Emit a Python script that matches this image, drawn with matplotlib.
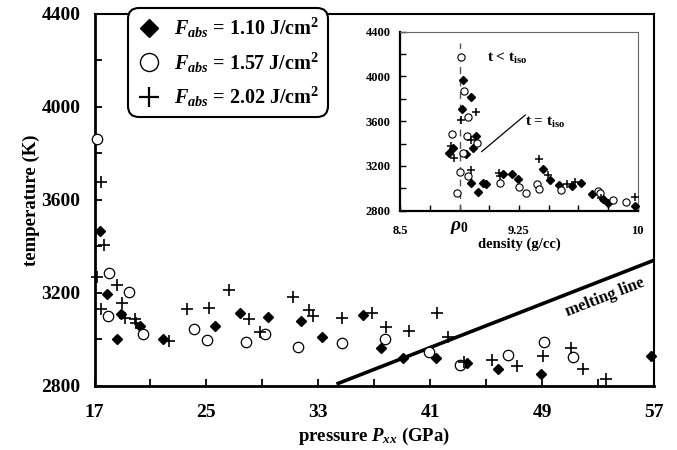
import matplotlib
matplotlib.use("Agg")
import matplotlib.pyplot as plt
from matplotlib.lines import Line2D
from matplotlib.ticker import MultipleLocator, FixedLocator

plt.rcParams['font.family'] = ['Liberation Serif', 'DejaVu Serif']
plt.rcParams['font.weight'] = 'bold'
plt.rcParams['mathtext.fontset'] = 'custom'
plt.rcParams['mathtext.rm'] = 'Liberation Serif:bold'
plt.rcParams['mathtext.it'] = 'Liberation Serif:italic:bold'
plt.rcParams['mathtext.bf'] = 'Liberation Serif:bold'

# --- main panel: temperature vs pressure ---
d_P = [17.40, 17.87, 18.63, 18.89, 20.25, 21.87, 25.61, 27.40, 29.42, 31.76,
       33.24, 36.17, 37.48, 39.07, 41.41, 43.65, 45.86, 48.89, 56.80]
d_T = [3466, 3195, 3001, 3107, 3058, 3001, 3058, 3112, 3097, 3079,
       3011, 3104, 2961, 2918, 2918, 2896, 2872, 2850, 2928]

o_P = [17.16, 17.99, 18.06, 19.49, 20.49, 24.13, 25.02, 27.83, 29.19, 31.52,
       34.71, 37.77, 40.93, 43.13, 46.58, 49.15, 51.22]
o_T = [3862, 3100, 3284, 3202, 3021, 3044, 2997, 2987, 3021, 2968,
       2983, 3001, 2946, 2889, 2932, 2987, 2922]

p_P = [17.20, 17.44, 17.46, 17.70, 18.59, 18.94, 19.18, 19.90, 20.00, 22.35,
       23.63, 25.18, 26.64, 28.07, 28.83, 31.21, 32.35, 32.64, 34.71, 36.81,
       37.84, 39.50, 41.50, 42.29, 43.41, 45.39, 47.18, 49.08, 51.04, 51.90, 53.56]
p_T = [3269, 3678, 3129, 3406, 3234, 3155, 3090, 3086, 3071, 2992,
       3129, 3133, 3212, 3086, 3030, 3183, 3126, 3100, 3090, 3114,
       3051, 3037, 3114, 3008, 2903, 2911, 2885, 2928, 2961, 2872, 2828]

melt_P = [34.3, 57.0]
melt_T = [2807, 3340]

P_major = [17, 25, 33, 41, 49, 57]
P_minor = [21, 29, 37, 45, 53]

# --- inset: temperature vs density ---
di_rho = [8.896, 8.948, 8.889, 8.980, 8.960, 8.915, 8.810, 8.836, 8.950, 8.994,
          9.025, 9.040, 9.148, 9.209, 9.243, 9.400, 9.447, 9.506, 9.587, 9.640,
          9.713, 9.783, 9.814, 9.980]
di_T = [3968, 3812, 3712, 3468, 3358, 3305, 3313, 3358, 3050, 2965,
        3048, 3036, 3125, 3125, 3082, 3172, 3078, 3030, 3022, 3050,
        2945, 2905, 2866, 2840]

oi_rho = [8.885, 8.902, 8.928, 8.830, 8.920, 8.984, 8.900, 8.880, 8.930, 8.860,
          9.130, 9.250, 9.295, 9.367, 9.377, 9.518, 9.750, 9.760, 9.845, 9.925]
oi_T = [4171, 3870, 3633, 3484, 3468, 3407, 3313, 3149, 3113, 2961,
        3045, 3015, 2958, 3042, 2997, 2982, 2975, 2962, 2892, 2878]

pi_rho = [8.980, 8.886, 8.948, 8.822, 8.838, 8.948, 9.127, 9.130, 9.377, 9.436,
          9.552, 9.604, 9.770, 9.983]
pi_T = [3685, 3608, 3430, 3378, 3270, 3160, 3140, 3110, 3260, 3119,
        3039, 3052, 2915, 2922]

rho0 = 8.875
labels = [r'$F_{abs}$ = 1.10 J/cm$^{\mathbf{2}}$',
          r'$F_{abs}$ = 1.57 J/cm$^{\mathbf{2}}$',
          r'$F_{abs}$ = 2.02 J/cm$^{\mathbf{2}}$']

fig = plt.figure(figsize=(6.77, 4.5), dpi=100)
ax = fig.add_axes([0.1396, 0.1429, 0.8264, 0.826])

ax.plot(d_P, d_T, 'D', ms=5.5, color='black', ls='none', clip_on=False, zorder=3)
ax.plot(o_P, o_T, 'o', ms=7.5, mfc='white', mec='black', mew=0.9, ls='none', clip_on=False, zorder=3)
ax.plot(p_P, p_T, '+', ms=8, mew=1.2, color='black', ls='none', clip_on=False, zorder=3)
ax.plot(melt_P, melt_T, color='black', lw=2.6, solid_capstyle='butt')

ax.text(53.5, 3182, 'melting line', rotation=21.3, ha='center', va='center',
        rotation_mode='anchor', fontsize=12, fontweight='bold')

ax.set_xlim(17, 57)
ax.set_ylim(2800, 4400)
ax.xaxis.set_major_locator(FixedLocator(P_major))
ax.xaxis.set_minor_locator(FixedLocator(P_minor))
ax.yaxis.set_major_locator(MultipleLocator(400))
ax.yaxis.set_minor_locator(MultipleLocator(200))
ax.tick_params(which='both', direction='in', length=5, width=1.3, top=False, right=False)
ax.tick_params(axis='x', labelsize=14, pad=13)
ax.tick_params(axis='y', labelsize=14, pad=10)
for s in ['left', 'bottom']:
    ax.spines[s].set_linewidth(2.0)
for s in ['top', 'right']:
    ax.spines[s].set_linewidth(1.5)
ax.set_xlabel(r'pressure $P_{xx}$ (GPa)', fontsize=13.5, fontweight='bold', labelpad=4)
ax.set_ylabel('temperature (K)', fontsize=13.5, fontweight='bold', labelpad=1)

handles = [Line2D([], [], marker='D', ms=9, color='black', ls='none'),
           Line2D([], [], marker='o', ms=13, mfc='white', mec='black', mew=1.0, ls='none'),
           Line2D([], [], marker='+', ms=14, mew=1.6, color='black', ls='none')]
leg = fig.legend(handles, labels, loc='upper left', bbox_to_anchor=(128 / 677, 1 - 8 / 450),
                 fontsize=14.5, frameon=True, fancybox=True, framealpha=1, edgecolor='black',
                 handlelength=1.3, handletextpad=0.6, labelspacing=0.5, borderpad=0.4,
                 borderaxespad=0)
leg.get_frame().set_linewidth(1.5)
leg.get_frame().set_boxstyle('round,pad=0,rounding_size=0.55')
leg.set_zorder(10)

# inset
ins = fig.add_axes([0.591, 0.5318, 0.351, 0.3978])
ins.plot([rho0, rho0], [2800, 4300], color='#555555', lw=1.0, ls=(0, (5, 4)))
ins.plot(di_rho, di_T, 'D', ms=3.6, color='black', ls='none', clip_on=False, zorder=3)
ins.plot(oi_rho, oi_T, 'o', ms=5.2, mfc='white', mec='black', mew=0.8, ls='none', clip_on=False, zorder=3)
ins.plot(pi_rho, pi_T, '+', ms=6, mew=1.1, color='black', ls='none', clip_on=False, zorder=3)
ins.plot([9.015, 9.29], [3328, 3655], color='black', lw=0.9)
ins.text(9.05, 4165, r't < t$_{\mathrm{iso}}$', fontsize=11, va='center', ha='left')
ins.text(9.29, 3590, r't = t$_{\mathrm{iso}}$', fontsize=11, va='center', ha='left')

ins.set_xlim(8.5, 10)
ins.set_ylim(2800, 4400)
ins.xaxis.set_major_locator(FixedLocator([8.5, rho0, 9.25, 10]))
ins.set_xticklabels(['8.5', r'$\rho_{\mathit{0}}$', '9.25', '10'])
ins.xaxis.set_minor_locator(FixedLocator([8.5 + 0.1875 * k for k in range(9)]))
ins.yaxis.set_major_locator(MultipleLocator(400))
ins.yaxis.set_minor_locator(MultipleLocator(200))
ins.tick_params(which='both', direction='in', length=4, width=1.0, top=False, right=False)
ins.tick_params(axis='x', labelsize=9, pad=10)
ins.tick_params(axis='y', labelsize=9, pad=7)
for t in ins.get_xticklabels():
    if 'rho' in t.get_text():
        t.set_fontsize(14)
        t.set_y(0.03)
for s in ['left', 'bottom']:
    ins.spines[s].set_linewidth(1.6)
for s in ['top', 'right']:
    ins.spines[s].set_linewidth(0.8)
    ins.spines[s].set_color('#666666')
ins.set_xlabel('density (g/cc)', fontsize=10.5, fontweight='bold', labelpad=1)

fig.savefig('out.png', dpi=100)
